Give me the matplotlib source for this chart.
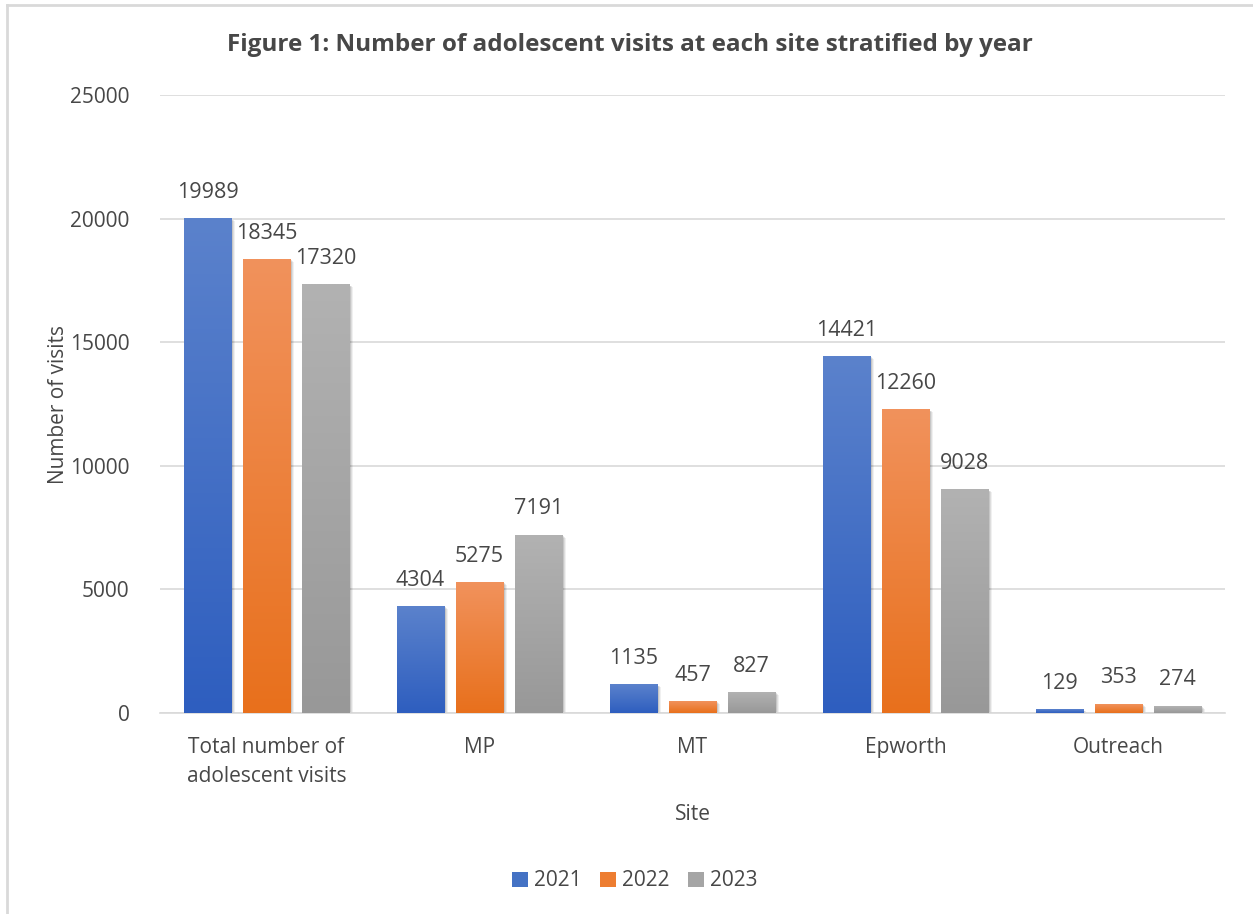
import numpy as np
import matplotlib
matplotlib.use("Agg")
import matplotlib.pyplot as plt
from matplotlib.colors import LinearSegmentedColormap
from matplotlib.patches import Rectangle, Patch
from matplotlib import transforms

sites = ["Total number of\nadolescent visits", "MP", "MT", "Epworth", "Outreach"]
years = ["2021", "2022", "2023"]
visits_2021 = [19989, 4304, 1135, 14421, 129]
visits_2022 = [18345, 5275, 457, 12260, 353]
visits_2023 = [17320, 7191, 827, 9028, 274]

# light top -> dark bottom for each series
grad_colors = [("#5b82cc", "#2e5ebf"), ("#f1925c", "#e8701c"), ("#b2b2b2", "#989898")]
legend_colors = ["#4472c4", "#ed7d31", "#a5a5a5"]
text_col = "#474747"

plt.rcParams["font.family"] = ["Open Sans", "DejaVu Sans"]

fig = plt.figure(figsize=(12.53, 9.14), dpi=100)
ax = fig.add_axes([160 / 1253, 201 / 914, 1065 / 1253, 618 / 914])

x = np.arange(len(sites))
width = 0.225
step = 0.277
series = [visits_2021, visits_2022, visits_2023]

for i, vals in enumerate(series):
    cmap = LinearSegmentedColormap.from_list("g%d" % i, [grad_colors[i][1], grad_colors[i][0]])
    grad = np.linspace(0, 1, 256).reshape(-1, 1)
    for xi, v in zip(x, vals):
        left = xi + (i - 1) * step - width / 2
        # soft shadow
        for dx, a in [(4, 0.06), (2.5, 0.08), (1.2, 0.10)]:
            off = transforms.offset_copy(ax.transData, fig=fig, x=dx, y=-dx * 0.6, units="dots")
            ax.add_patch(Rectangle((left, 0), width, v, transform=off,
                                   facecolor="black", alpha=a, lw=0, zorder=2))
        ax.imshow(grad, extent=(left, left + width, 0, v), origin="lower",
                  cmap=cmap, aspect="auto", zorder=3, interpolation="bilinear")
        ax.annotate(f"{v}", (xi + (i - 1) * step, v), xytext=(0, 19),
                    textcoords="offset points", ha="center", va="center",
                    fontsize=15.5, color=text_col, zorder=4)

ax.set_xlim(-0.5, len(sites) - 0.5)
ax.set_ylim(0, 25000)
ax.set_yticks(range(0, 25001, 5000))
ax.set_xticks(x)
ax.set_xticklabels(sites, linespacing=1.55)
ax.tick_params(axis="both", length=0, labelsize=15, labelcolor=text_col)
ax.tick_params(axis="y", pad=22)
ax.tick_params(axis="x", pad=17)
ax.grid(axis="y", color="#d9d9d9", lw=1.2, zorder=0)
ax.set_axisbelow(True)
for s in ["top", "right", "left"]:
    ax.spines[s].set_visible(False)
ax.spines["bottom"].set_color("#d9d9d9")
ax.spines["bottom"].set_linewidth(1.2)

ax.set_xlabel("Site", fontsize=15, color=text_col, labelpad=12)
ax.set_ylabel("Number of visits", fontsize=15, color=text_col, labelpad=0.5)

fig.text(630 / 1253, 1 - 45 / 914, "Figure 1: Number of adolescent visits at each site stratified by year",
         ha="center", va="center", fontsize=17.5, fontweight="bold", color=text_col)

handles = [Patch(facecolor=c, edgecolor="none") for c in legend_colors]
fig.legend(handles, years, loc="center", bbox_to_anchor=(635 / 1253, 1 - 881 / 914), ncol=3,
           frameon=False, fontsize=15, handlelength=0.75, handleheight=0.75,
           handletextpad=0.3, columnspacing=0.9, labelcolor=text_col)

# chart border (left and top edges)
fig.add_artist(plt.Line2D([6.5 / 1253, 6.5 / 1253], [0, 1 - 5 / 914], color="#d9d9d9", lw=2))
fig.add_artist(plt.Line2D([6.5 / 1253, 1], [1 - 5 / 914, 1 - 5 / 914], color="#d9d9d9", lw=2))

fig.savefig("out.png", dpi=100, facecolor="white")
